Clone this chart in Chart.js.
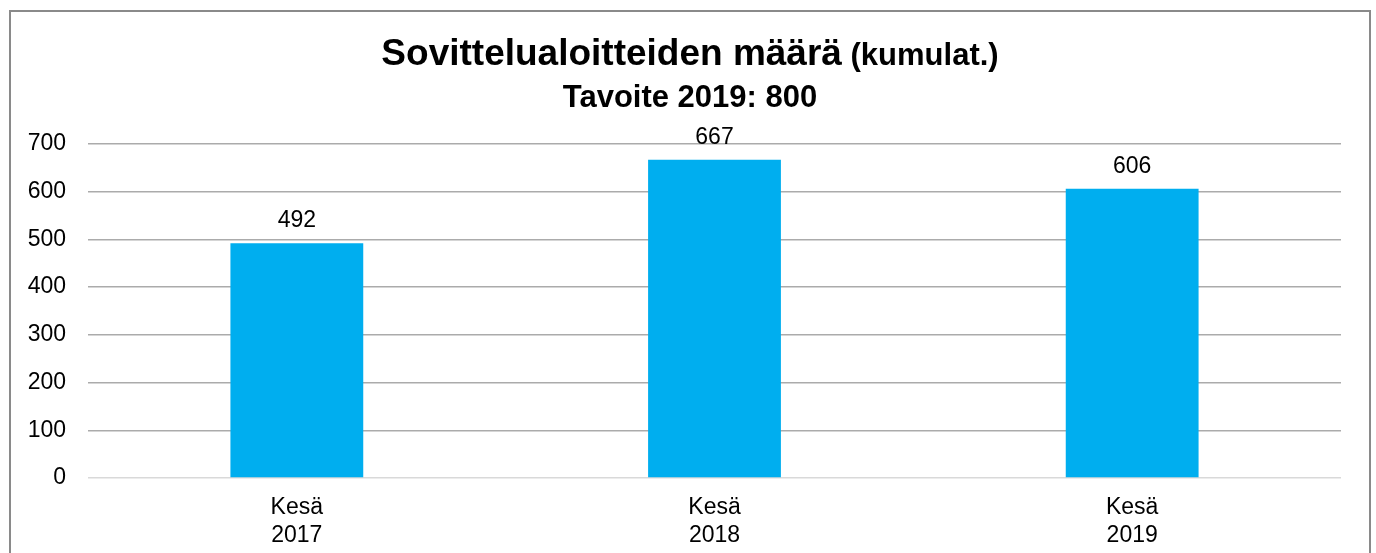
<!DOCTYPE html>
<html>
<head>
<meta charset="utf-8">
<script src="https://cdn.jsdelivr.net/npm/chart.js@4/dist/chart.umd.min.js"></script>
<style>
  html, body { margin: 0; padding: 0; background: #ffffff; }
  #wrap { position: relative; width: 1376px; height: 553px; }
  canvas { display: block; }
</style>
</head>
<body>
<div id="wrap"><canvas id="c" width="1376" height="553"></canvas></div>
<script>
const categories = [["Kesä", "2017"], ["Kesä", "2018"], ["Kesä", "2019"]];
const values = [492, 667, 606];
const titleMain = "Sovittelualoitteiden määrä";
const titleSmall = "(kumulat.)";
const subtitleText = "Tavoite 2019: 800";
const yMin = 0, yMax = 700, yStep = 100;

const FONT = "'Liberation Sans', Arial, sans-serif";

const framePlugin = {
  id: 'frame',
  beforeDraw(chart) {
    const ctx = chart.ctx;
    ctx.save();
    ctx.fillStyle = '#ffffff';
    ctx.fillRect(0, 0, chart.width, chart.height);
    ctx.strokeStyle = '#8a8a8a';
    ctx.lineWidth = 2;
    ctx.strokeRect(10, 11, 1360, 560);
    ctx.restore();
  }
};

const titlePlugin = {
  id: 'mixedTitle',
  afterDraw(chart) {
    const ctx = chart.ctx;
    ctx.save();
    ctx.fillStyle = '#000000';
    ctx.textBaseline = 'alphabetic';
    ctx.textAlign = 'left';
    const bigFont = "bold 37px " + FONT;
    const smallFont = "bold 31px " + FONT;
    ctx.font = bigFont;
    const w1 = ctx.measureText(titleMain).width;
    ctx.font = smallFont;
    const sp = ctx.measureText(" ").width;
    const w2 = ctx.measureText(titleSmall).width;
    const cx = 690;
    let x = cx - (w1 + sp + w2) / 2;
    ctx.font = bigFont;
    ctx.fillText(titleMain, x, 65);
    ctx.font = smallFont;
    ctx.fillText(titleSmall, x + w1 + sp, 65);
    ctx.font = "bold 31px " + FONT;
    ctx.textAlign = 'center';
    ctx.fillText(subtitleText, cx, 107);
    ctx.restore();
  }
};

const valueLabelPlugin = {
  id: 'valueLabels',
  afterDatasetsDraw(chart) {
    const ctx = chart.ctx;
    const meta = chart.getDatasetMeta(0);
    ctx.save();
    ctx.fillStyle = '#000000';
    ctx.font = "23px " + FONT;
    ctx.textAlign = 'center';
    ctx.textBaseline = 'alphabetic';
    meta.data.forEach((bar, i) => {
      ctx.fillText(String(values[i]), bar.x, bar.y - 16);
    });
    ctx.restore();
  }
};

new Chart(document.getElementById('c'), {
  type: 'bar',
  data: {
    labels: categories,
    datasets: [{
      data: values,
      backgroundColor: '#00AEEF',
      borderWidth: 0,
      barPercentage: 0.318,
      categoryPercentage: 1.0
    }]
  },
  options: {
    responsive: false,
    animation: false,
    events: [],
    layout: { padding: { top: 144, right: 35, bottom: 0, left: 0 } },
    plugins: {
      legend: { display: false },
      title: { display: false },
      tooltip: { enabled: false }
    },
    scales: {
      x: {
        grid: { display: false, drawTicks: false },
        border: { display: false },
        ticks: {
          color: '#000000',
          font: { family: FONT, size: 23 },
          padding: 16,
          maxRotation: 0,
          autoSkip: false
        },
        afterFit(scale) { scale.height = 75; }
      },
      y: {
        min: yMin,
        max: yMax,
        grid: {
          drawTicks: false,
          lineWidth: 1.5,
          color: (ctx) => (ctx.tick && ctx.tick.value === 0) ? '#d9d9d9' : '#ababab'
        },
        border: { display: false },
        ticks: {
          stepSize: yStep,
          color: '#000000',
          font: { family: FONT, size: 23 },
          padding: 22
        },
        afterFit(scale) { scale.width = 88; }
      }
    }
  },
  plugins: [framePlugin, titlePlugin, valueLabelPlugin]
});
</script>
</body>
</html>
